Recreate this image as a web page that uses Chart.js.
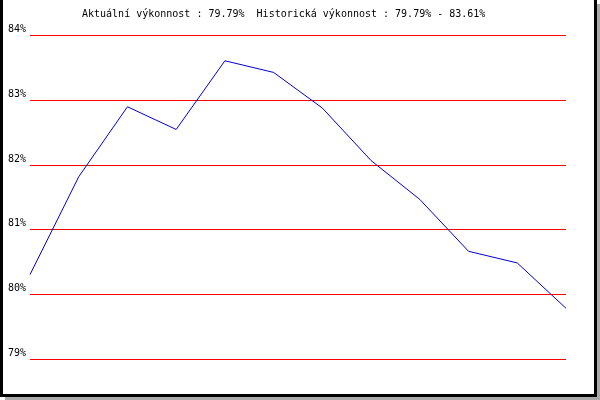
<!DOCTYPE html>
<html>
<head>
<meta charset="utf-8">
<script src="https://cdn.jsdelivr.net/npm/chart.js@4"></script>
<style>
    body { margin: 0; background: #fff; }
    #wrap { width: 600px; height: 400px; }
</style>
</head>
<body>
<div id="wrap"><canvas id="vykonChart" width="600" height="400"></canvas></div>
<script>
// Data
const periody = ['1', '2', '3', '4', '5', '6', '7', '8', '9', '10', '11', '12'];
const vykonnost = [80.31, 81.82, 82.90, 82.55, 83.61, 83.43, 82.88, 82.07, 81.47, 80.67, 80.49, 79.79];
const osaY = [79, 80, 81, 82, 83, 84];
const titulek = 'Aktuální výkonnost : 79.79%  Historická výkonnost : 79.79% - 83.61%';

const monoFont = '"DejaVu Sans Mono", monospace';

// ramecek se stinem a titulek
const ramecekPlugin = {
    id: 'ramecek',
    beforeDraw(chart) {
        const ctx = chart.ctx;
        ctx.save();
        ctx.fillStyle = '#ffffff';
        ctx.fillRect(0, 0, chart.width, chart.height);
        ctx.restore();
    },
    afterDraw(chart) {
        const ctx = chart.ctx;
        ctx.save();
        ctx.fillStyle = '#000000';
        ctx.fillRect(0, 0, 3, 397);
        ctx.fillRect(0, 394, 597, 3);
        ctx.fillRect(594, 0, 3, 397);
        ctx.fillStyle = '#aaaaaa';
        ctx.fillRect(597, 4, 3, 396);
        ctx.fillRect(5, 397, 595, 3);

        ctx.fillStyle = '#000000';
        ctx.font = '10px ' + monoFont;
        ctx.textAlign = 'left';
        ctx.textBaseline = 'alphabetic';
        ctx.fillText(titulek, 82, 17);
        ctx.restore();
    }
};

const ctx = document.getElementById('vykonChart').getContext('2d');
window.vykonChart = new Chart(ctx, {
    type: 'line',
    data: {
        labels: periody,
        datasets: [{
            data: vykonnost,
            borderColor: '#0000cc',
            borderWidth: 1,
            pointRadius: 0,
            tension: 0,
            fill: false
        }]
    },
    options: {
        responsive: false,
        animation: false,
        events: [],
        layout: {
            padding: { left: 0, top: 35.5, right: 34, bottom: 40.5 }
        },
        plugins: {
            legend: { display: false },
            tooltip: { enabled: false }
        },
        scales: {
            x: {
                display: false,
                offset: false
            },
            y: {
                min: osaY[0],
                max: osaY[osaY.length - 1],
                afterFit: function(scale) {
                    scale.width = 30;
                },
                afterBuildTicks: function(scale) {
                    scale.ticks = osaY.map(v => ({ value: v }));
                },
                border: { display: false },
                grid: {
                    color: '#ff0000',
                    lineWidth: 1,
                    drawTicks: false
                },
                ticks: {
                    padding: 4,
                    labelOffset: -6,
                    color: '#000000',
                    font: { family: monoFont, size: 10 },
                    callback: function(value) {
                        return value + '%';
                    }
                }
            }
        }
    },
    plugins: [ramecekPlugin]
});
</script>
</body>
</html>
